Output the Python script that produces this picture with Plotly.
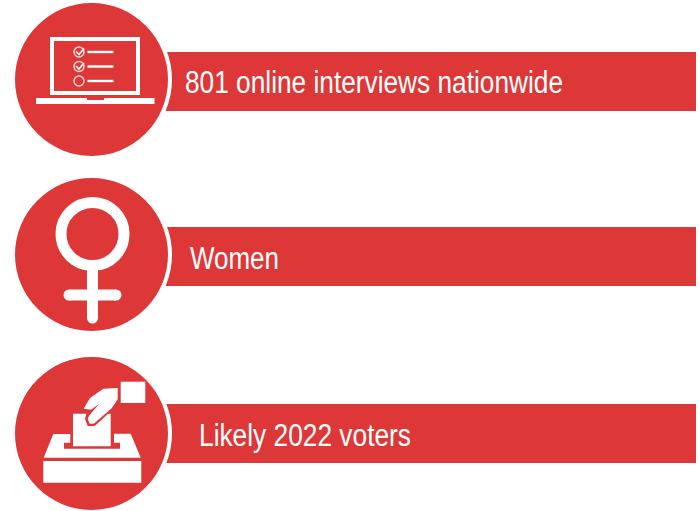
import plotly.graph_objects as go

labels = ["801 online interviews nationwide", "Women", "Likely 2022 voters"]
label_x = [183, 188, 197]
label_widths = [378, 89, 212]
row_y = [82, 258, 435]
circle_y = [79.5, 254.5, 433.5]
band_y = [81.5, 256.5, 433.5]
RED = "#DD3737"
WHITE = "#FFFFFF"
CX = 91.5

shapes = []


def rect(x0, y0, x1, y1, color=WHITE):
    shapes.append(dict(type="rect", x0=x0, y0=y0, x1=x1, y1=y1, fillcolor=color, line_width=0))


def circ(cx, cy, r, fill=WHITE, line=None, lw=0):
    shapes.append(dict(type="circle", x0=cx - r, y0=cy - r, x1=cx + r, y1=cy + r,
                       fillcolor=fill, line=dict(color=line or fill, width=lw)))


def seg(x0, y0, x1, y1, w, color=WHITE):
    shapes.append(dict(type="path", path=f"M{x0},{y0} L{x1},{y1}",
                       line=dict(color=color, width=w)))


def poly(points, color=WHITE, lw=0, oy=0):
    p = "M" + " L".join(f"{x / 3:.1f},{y / 3 + oy:.1f}" for x, y in points) + " Z"
    shapes.append(dict(type="path", path=p, fillcolor=color, line=dict(color=color, width=lw)))


# bands and discs
for by, cy in zip(band_y, circle_y):
    rect(166, by - 29.5, 696, by + 29.5, RED)
    circ(CX, cy, 80.5, WHITE)
    circ(CX, cy, 76.5, RED)

# laptop
shapes.append(dict(type="rect", x0=52, y0=39, x1=138, y1=93, fillcolor="rgba(0,0,0,0)",
                   line=dict(color=WHITE, width=4)))
rect(36, 98, 154.5, 104)
rect(87, 98, 104, 100, RED)
for yy in [52, 66.5, 81]:
    circ(79, yy, 5, "rgba(0,0,0,0)", "#F6D5D5", 1.5)
    seg(87.5, yy, 113.5, yy, 2.4)
for yy in [52, 66.5]:
    shapes.append(dict(type="path", path=f"M76,{yy - 0.5} L79,{yy + 2.5} L84,{yy - 3.5}",
                       line=dict(color=WHITE, width=1.6)))

# female symbol
circ(92.5, 234, 31.5, "rgba(0,0,0,0)", WHITE, 11)
seg(92.5, 268, 92.5, 318, 11)
circ(92.5, 318, 5.5)
seg(69, 295, 116, 295, 11)
circ(69, 295, 5.5)
circ(116, 295, 5.5)

# ballot box
O = 341
poly([(131, 350), (160, 279), (211, 279), (211, 305), (192, 305), (192, 323),
      (360, 323), (360, 305), (342, 305), (342, 278), (392, 278), (422, 350)], oy=O)
poly([(130, 360), (424, 360), (424, 425), (130, 425)], oy=O)
poly([(219, 218), (332, 218), (332, 316), (219, 316)], oy=O)
poly([(362, 122), (436, 122), (436, 186), (362, 186)], oy=O)
# hand
poly([(300, 186), (259, 218), (255, 234), (263, 255), (284, 255), (340, 204), (340, 186)], RED, 0, oy=O)
poly([(353, 141), (310, 143), (270, 171), (251, 203), (273, 206), (297, 189), (267, 224),
      (263, 234), (269, 248), (281, 248), (335, 202), (353, 175)], oy=O)

annotations = [
    dict(text=t, x=x, y=y, xref="x", yref="y", xanchor="left", yanchor="middle", align="left",
         showarrow=False, font=dict(family="Liberation Sans", size=31, color=WHITE))
    for t, x, y in zip(labels, label_x, row_y)
]

fig = go.Figure()
fig.update_layout(
    width=700, height=511, margin=dict(l=0, r=0, t=0, b=0),
    paper_bgcolor=WHITE, plot_bgcolor=WHITE, showlegend=False,
    xaxis=dict(range=[0, 700], visible=False, fixedrange=True),
    yaxis=dict(range=[511, 0], visible=False, fixedrange=True),
    shapes=shapes, annotations=annotations,
)
post = """
document.body.style.margin = '0';
var w = %s;
document.querySelectorAll('.annotation-text').forEach(function (t, i) {
  t.setAttribute('textLength', w[i]);
  t.setAttribute('lengthAdjust', 'spacingAndGlyphs');
});
""" % label_widths
fig.write_html("out.html", config=dict(displayModeBar=False), post_script=post)
